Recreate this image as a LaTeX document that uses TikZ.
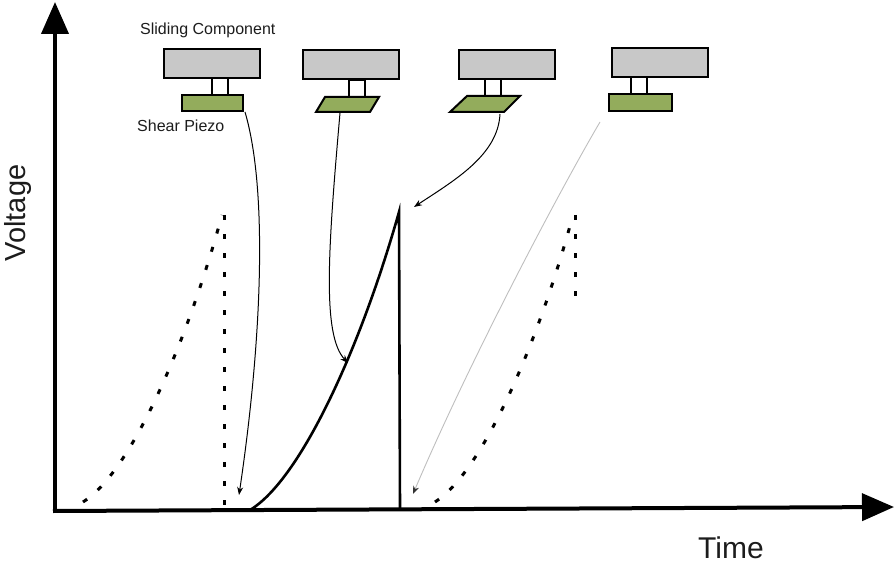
\documentclass[tikz,border=0pt]{standalone}
\usepackage{fontspec}
\setmainfont{Liberation Sans}
\usetikzlibrary{arrows.meta}
\definecolor{slidergray}{RGB}{200,200,200}
\definecolor{piezogreen}{RGB}{147,172,92}
\definecolor{inkgray}{RGB}{28,28,28}
\definecolor{faintline}{RGB}{190,190,190}
\begin{document}
\begin{tikzpicture}[x=1bp,y=-1bp,
  slider/.style={draw=black,fill=slidergray,line width=2bp,inner sep=0pt,
    minimum width=96bp,minimum height=29bp},
  stem/.style={draw=black,fill=white,line width=2bp,inner sep=0pt,
    minimum width=16bp,minimum height=17bp},
  piezo/.style={draw=black,fill=piezogreen,line width=2bp,line join=miter},
  axis/.style={line width=4bp,-{Triangle[length=32bp,width=27bp]}},
  trace/.style={line width=2.6bp,line join=miter},
  ghost/.style={line width=3bp,dash pattern=on 5bp off 14bp},
  pointer/.style={line width=1bp,-{Stealth[length=8bp,width=6bp]}},
  faintpointer/.style={line width=0.9bp,draw=faintline,
    -{Stealth[length=8bp,width=6bp,color=black!80]}},
  label/.style={text=inkgray,inner sep=0pt}]
\useasboundingbox (0,0) rectangle (895,564);

% axes
\coordinate (origin) at (55,511);
\coordinate (ytip) at (55,2);
\coordinate (xtip) at (894,507);
\draw[axis] (origin) -- (ytip);
\draw[axis] (53,511) -- (xtip);
\node[label,rotate=90,anchor=base,font=\fontsize{29bp}{30bp}\selectfont] (vlab) at (25,213) {Voltage};
\node[label,anchor=base west,font=\fontsize{30bp}{31bp}\selectfont] (tlab) at (698,558) {Time};

% stick-slip stages: sliding component on a shear piezo
\node[slider] (s1) at (211.5,63.5) {};
\node[slider] (s2) at (351,64.5) {};
\node[slider] (s3) at (507,65) {};
\node[slider] (s4) at (659.5,62.5) {};
\node[stem] (k1) at (220,86.5) {};
\node[stem] (k2) at (356.5,88.5) {};
\node[stem] (k3) at (492.5,88) {};
\node[stem] (k4) at (638.5,85.5) {};
\draw[piezo] (182,95) rectangle (243,111);
\draw[piezo] (325,97) -- (379,97) -- (370,112) -- (316,112) -- cycle;
\draw[piezo] (467,96) -- (520,96) -- (504,112) -- (450,112) -- cycle;
\draw[piezo] (609,94) rectangle (672,111);
\coordinate (p1) at (245,112);
\coordinate (p2) at (340,113);
\coordinate (p3) at (500,114);
\coordinate (p4) at (600,122);
\node[label,anchor=base west,font=\fontsize{16bp}{17bp}\selectfont] (slab) at (140,35) {Sliding Component};
\node[label,anchor=base west,font=\fontsize{16bp}{17bp}\selectfont] (plab) at (137,132) {Shear Piezo};

% voltage ramp and drop
\coordinate (r0) at (250,510);
\coordinate (peak) at (399,212);
\coordinate (drop) at (400,510);
\draw[trace] (r0) .. controls (300,480) and (360,350) .. (peak) -- (drop);

% neighbouring cycles, dotted
\draw[ghost] (83,502) .. controls (129.6,473) and (185.6,348) .. (222,215);
\draw[ghost] (224,215) -- (224,510);
\draw[ghost] (435,502) .. controls (481,473) and (537,348) .. (573,215);
\draw[ghost] (575,215) -- (575,304);

% stage pointers
\coordinate (a1) at (239,495);
\coordinate (a2) at (348,363);
\coordinate (a3) at (414,207);
\coordinate (a4) at (413,494);
\draw[pointer] (p1) .. controls (268,190) and (262,340) .. (a1);
\draw[pointer] (p2) .. controls (328,250) and (322,335) .. (a2);
\draw[pointer] (p3) .. controls (498,155) and (455,180) .. (a3);
\draw[faintpointer] (p4) .. controls (560,190) and (470,360) .. (a4);
\end{tikzpicture}
\end{document}
